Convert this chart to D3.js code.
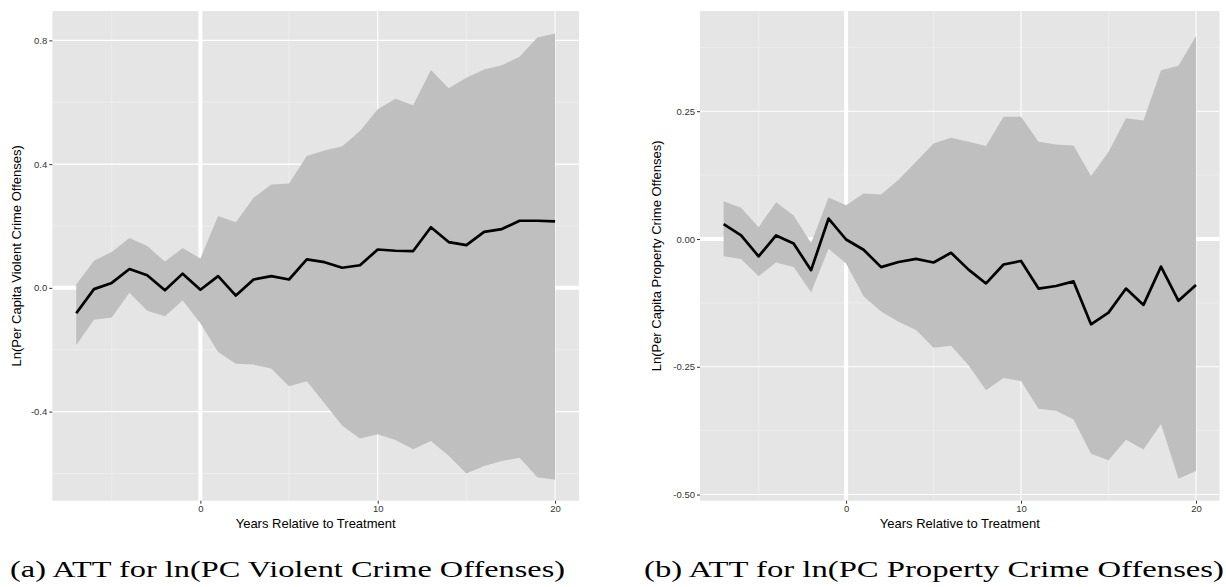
<!DOCTYPE html>
<html>
<head>
<meta charset="utf-8">
<script src="https://cdn.jsdelivr.net/npm/d3@7"></script>
<style>
  html, body { margin: 0; padding: 0; background: #ffffff; }
  svg { display: block; }
</style>
</head>
<body>
<svg id="chart" width="1226" height="587"></svg>
<script>
// ---------------- DATA ----------------
const years = [-7,-6,-5,-4,-3,-2,-1,0,1,2,3,4,5,6,7,8,9,10,11,12,13,14,15,16,17,18,19,20];

// (a) Violent crime
const violentATT   = [-0.082,-0.004,0.016,0.061,0.041,-0.008,0.046,-0.006,0.038,-0.025,0.027,0.038,0.027,0.092,0.083,0.065,0.073,0.124,0.120,0.119,0.196,0.148,0.138,0.181,0.190,0.217,0.217,0.215];
const violentUpper = [0.011,0.088,0.116,0.161,0.135,0.085,0.129,0.095,0.232,0.212,0.291,0.334,0.337,0.426,0.444,0.458,0.507,0.577,0.611,0.590,0.704,0.645,0.679,0.706,0.720,0.747,0.809,0.822];
const violentLower = [-0.185,-0.103,-0.096,-0.016,-0.074,-0.092,-0.041,-0.114,-0.207,-0.245,-0.248,-0.261,-0.318,-0.302,-0.373,-0.446,-0.487,-0.473,-0.492,-0.522,-0.495,-0.543,-0.600,-0.576,-0.560,-0.549,-0.612,-0.620];

// (b) Property crime
const propertyATT   = [0.029,0.007,-0.034,0.007,-0.009,-0.061,0.040,-0.001,-0.021,-0.055,-0.045,-0.039,-0.046,-0.027,-0.060,-0.087,-0.050,-0.043,-0.097,-0.092,-0.083,-0.167,-0.144,-0.097,-0.129,-0.054,-0.121,-0.090];
const propertyUpper = [0.074,0.061,0.023,0.072,0.046,-0.008,0.081,0.066,0.089,0.087,0.116,0.151,0.187,0.198,0.190,0.182,0.239,0.239,0.190,0.185,0.183,0.123,0.170,0.236,0.232,0.330,0.339,0.397];
const propertyLower = [-0.034,-0.039,-0.073,-0.046,-0.055,-0.104,-0.019,-0.048,-0.112,-0.142,-0.162,-0.178,-0.213,-0.209,-0.247,-0.296,-0.272,-0.278,-0.332,-0.336,-0.353,-0.420,-0.433,-0.393,-0.412,-0.362,-0.469,-0.454];

// Axis ticks / labels
const xTicks = [0, 10, 20];
const xMinor = [-5, 5, 15];
const violentYTicks = [-0.4, 0.0, 0.4, 0.8];
const violentYLabels = ["-0.4", "0.0", "0.4", "0.8"];
const violentYMinor = [-0.6, -0.2, 0.2, 0.6];
const propertyYTicks = [-0.5, -0.25, 0.0, 0.25];
const propertyYLabels = ["-0.50", "-0.25", "0.00", "0.25"];
const propertyYMinor = [-0.375, -0.125, 0.125, 0.375];

const xTitle = "Years Relative to Treatment";
const violentYTitle = "Ln(Per Capita Violent Crime Offenses)";
const propertyYTitle = "Ln(Per Capita Property Crime Offenses)";
const captionA = "(a) ATT for ln(PC Violent Crime Offenses)";
const captionB = "(b) ATT for ln(PC Property Crime Offenses)";

// ---------------- DRAW ----------------
const svg = d3.select("#chart");
const sans = "'Liberation Sans', Arial, sans-serif";

function panel(opts) {
  const g = svg.append("g");
  const x = d3.scaleLinear().domain([-8.35, 21.35]).range([opts.left, opts.right]);
  const y = d3.scaleLinear().domain(opts.yDomain).range([opts.bottom, opts.top]);

  g.append("rect")
    .attr("x", opts.left).attr("y", opts.top)
    .attr("width", opts.right - opts.left).attr("height", opts.bottom - opts.top)
    .attr("fill", "#e5e5e5");

  g.selectAll(".hmin").data(opts.yMinor).enter().append("line")
    .attr("x1", opts.left).attr("x2", opts.right)
    .attr("y1", d => y(d)).attr("y2", d => y(d))
    .attr("stroke", "#f2f2f2").attr("stroke-width", 0.6);
  g.selectAll(".vmin").data(xMinor).enter().append("line")
    .attr("y1", opts.top).attr("y2", opts.bottom)
    .attr("x1", d => x(d)).attr("x2", d => x(d))
    .attr("stroke", "#f2f2f2").attr("stroke-width", 0.6);
  g.selectAll(".hmaj").data(opts.yTicks).enter().append("line")
    .attr("x1", opts.left).attr("x2", opts.right)
    .attr("y1", d => y(d)).attr("y2", d => y(d))
    .attr("stroke", "#ffffff").attr("stroke-width", 1.1);
  g.selectAll(".vmaj").data(xTicks).enter().append("line")
    .attr("y1", opts.top).attr("y2", opts.bottom)
    .attr("x1", d => x(d)).attr("x2", d => x(d))
    .attr("stroke", "#ffffff").attr("stroke-width", 1.1);

  g.append("line")
    .attr("x1", opts.left).attr("x2", opts.right)
    .attr("y1", y(0)).attr("y2", y(0))
    .attr("stroke", "#ffffff").attr("stroke-width", 4);
  g.append("line")
    .attr("y1", opts.top).attr("y2", opts.bottom)
    .attr("x1", x(0)).attr("x2", x(0))
    .attr("stroke", "#ffffff").attr("stroke-width", 4);

  const rows = years.map((t, i) => ({t, est: opts.est[i], lo: opts.lo[i], hi: opts.hi[i]}));
  g.append("path").datum(rows)
    .attr("d", d3.area().x(d => x(d.t)).y0(d => y(d.lo)).y1(d => y(d.hi)))
    .attr("fill", "#bfbfbf");

  g.append("path").datum(rows)
    .attr("d", d3.line().x(d => x(d.t)).y(d => y(d.est)))
    .attr("fill", "none").attr("stroke", "#000000").attr("stroke-width", 2.7)
    .attr("stroke-linejoin", "round");

  const xAxis = d3.axisBottom(x).tickValues(xTicks).tickSize(3).tickPadding(2).tickFormat(d3.format("d"));
  const gx = g.append("g").attr("transform", `translate(0,${opts.bottom})`).call(xAxis);
  gx.select(".domain").remove();
  gx.selectAll(".tick line").attr("stroke", "#333333").attr("stroke-width", 1);
  gx.selectAll(".tick text").attr("fill", "#333333")
    .style("font-family", sans).style("font-size", "9.5px");

  const yAxis = d3.axisLeft(y).tickValues(opts.yTicks).tickSize(3).tickPadding(2)
    .tickFormat((d, i) => opts.yLabels[i]);
  const gy = g.append("g").attr("transform", `translate(${opts.left},0)`).call(yAxis);
  gy.select(".domain").remove();
  gy.selectAll(".tick line").attr("stroke", "#333333").attr("stroke-width", 1);
  gy.selectAll(".tick text").attr("fill", "#333333")
    .style("font-family", sans).style("font-size", "9.5px");

  g.append("text")
    .attr("x", (opts.left + opts.right) / 2).attr("y", 527.5)
    .attr("text-anchor", "middle")
    .style("font-family", sans).style("font-size", "13px")
    .attr("fill", "#000").text(xTitle);
  g.append("text")
    .attr("transform", `translate(${opts.yTitleX},${(opts.top + opts.bottom) / 2}) rotate(-90)`)
    .attr("text-anchor", "middle")
    .style("font-family", sans).style("font-size", "13px")
    .attr("fill", "#000").text(opts.yTitle);
}

panel({
  left: 52.3, right: 579, top: 11, bottom: 500.7,
  yDomain: [-0.688, 0.895],
  yTicks: violentYTicks, yLabels: violentYLabels, yMinor: violentYMinor,
  est: violentATT, lo: violentLower, hi: violentUpper,
  yTitle: violentYTitle, yTitleX: 21
});

panel({
  left: 700, right: 1219.6, top: 11, bottom: 500.7,
  yDomain: [-0.512, 0.446],
  yTicks: propertyYTicks, yLabels: propertyYLabels, yMinor: propertyYMinor,
  est: propertyATT, lo: propertyLower, hi: propertyUpper,
  yTitle: propertyYTitle, yTitleX: 661
});

svg.append("text")
  .attr("x", 10).attr("y", 577)
  .attr("textLength", 555).attr("lengthAdjust", "spacingAndGlyphs")
  .style("font-family", "'Liberation Serif', 'DejaVu Serif', serif").style("font-size", "23.5px")
  .attr("fill", "#000").text(captionA);
svg.append("text")
  .attr("x", 644).attr("y", 577)
  .attr("textLength", 580).attr("lengthAdjust", "spacingAndGlyphs")
  .style("font-family", "'Liberation Serif', 'DejaVu Serif', serif").style("font-size", "23.5px")
  .attr("fill", "#000").text(captionB);
</script>
</body>
</html>
